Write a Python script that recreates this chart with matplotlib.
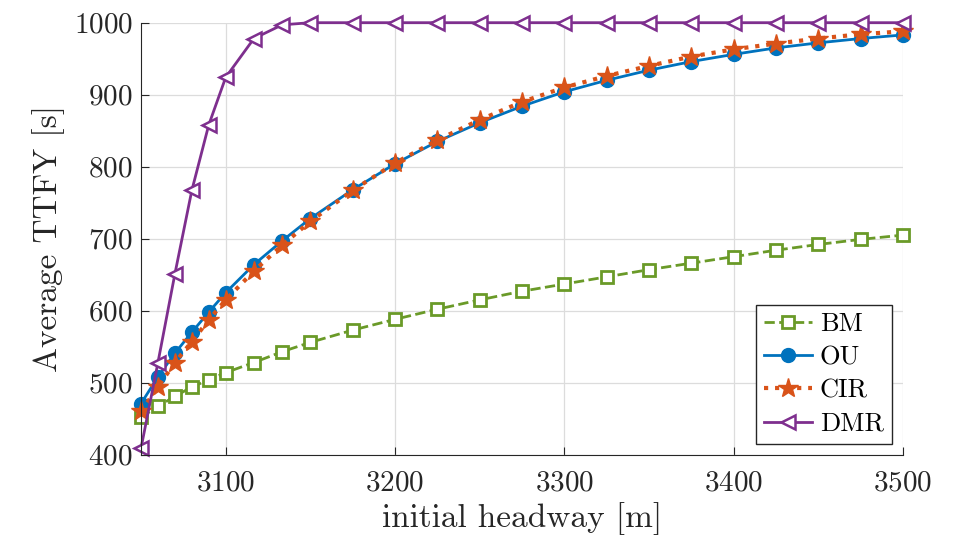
import numpy as np
import matplotlib
matplotlib.use("Agg")
import matplotlib.pyplot as plt

plt.rcParams['font.family'] = ['cmr10', 'DejaVu Sans']
plt.rcParams['axes.formatter.use_mathtext'] = True
plt.rcParams['mathtext.fontset'] = 'cm'

# initial headway [m]
headway = [3050, 3060, 3070, 3080, 3090, 3100, 3116.67, 3133.33, 3150,
           3175, 3200, 3225, 3250, 3275, 3300, 3325, 3350, 3375, 3400,
           3425, 3450, 3475, 3500]

bm = [452, 467, 481, 494, 504, 514, 528, 543, 556,
      573, 588, 602, 615, 627, 637, 647, 657, 666, 675,
      684, 692, 699, 705]
ou = [471, 508, 541, 570, 598, 625, 664, 697, 728,
      768, 804, 835, 861, 884, 904, 920, 934, 946, 956,
      965, 972, 978, 983]
cir = [460, 494, 528, 557, 587, 615, 655, 691, 724,
       767, 805, 837, 865, 890, 910, 926, 940, 953, 963,
       971, 978, 984, 988]
dmr = [409, 528, 651, 767, 858, 924, 978, 997, 1000,
       1000, 1000, 1000, 1000, 1000, 1000, 1000, 1000, 1000, 1000,
       1000, 1000, 1000, 1000]

c_bm = '#6A9A28'
c_ou = '#0072BD'
c_cir = '#D95319'
c_dmr = '#7E2F8E'

fig = plt.figure(figsize=(9.58, 5.44), dpi=100)
ax = fig.add_axes([0.1472, 0.1642, 0.7954, 0.7941])

ax.plot(headway, bm, '--s', color=c_bm, lw=2, ms=9, mew=2,
        mfc='white', label='BM', clip_on=False)
ax.plot(headway, ou, '-o', color=c_ou, lw=2, ms=10, label='OU', clip_on=False)
ax.plot(headway, cir, ':*', color=c_cir, lw=3, ms=15, label='CIR', clip_on=False)
ax.plot(headway, dmr, '-<', color=c_dmr, lw=2, ms=10, mew=1.8,
        mfc='white', label='DMR', clip_on=False)

ax.set_xlim(3050, 3500)
ax.set_ylim(400, 1000)
ax.set_xticks([3100, 3200, 3300, 3400, 3500])
ax.set_yticks([400, 500, 600, 700, 800, 900, 1000])
ax.grid(True, color='#dcdcdc', lw=0.9)
ax.set_axisbelow(True)
for s in ['top', 'right']:
    ax.spines[s].set_visible(False)
for s in ['left', 'bottom']:
    ax.spines[s].set_color('#262626')
ax.tick_params(direction='in', length=6, labelsize=21, colors='#262626')
ax.tick_params(axis='x', pad=11)
ax.tick_params(axis='y', pad=6)

ax.set_xlabel('initial headway [m]', fontsize=24, color='#262626', labelpad=4)
ax.set_ylabel('Average TTFY [s]', fontsize=24, color='#262626', labelpad=6)

leg = ax.legend(loc='lower right', fontsize=19, fancybox=False,
                edgecolor='#262626', framealpha=1, handlelength=1.8,
                handletextpad=0.3, borderpad=0.3, borderaxespad=0,
                labelspacing=0.36, bbox_to_anchor=(0.985, 0.025))
leg.get_frame().set_linewidth(1)

fig.savefig('out.png', dpi=100)
